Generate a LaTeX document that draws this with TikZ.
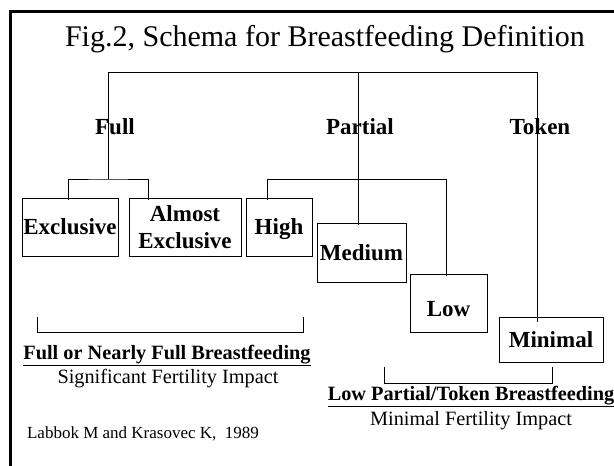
\documentclass[tikz,border=0pt]{standalone}
\usepackage{fontspec}
\setmainfont{Liberation Serif}
\usetikzlibrary{positioning}

\tikzset{
  box/.style={draw, line width=1pt, inner sep=0pt, align=center,
    font=\fontsize{23}{27}\selectfont\bfseries},
  kind/.style={inner sep=0pt, anchor=base, font=\fontsize{23}{27}\selectfont\bfseries},
  head/.style={inner sep=0pt, anchor=base, font=\fontsize{30}{36}\selectfont},
  group/.style={inner sep=0pt, anchor=base, font=\fontsize{20.3}{24}\selectfont\bfseries},
  impact/.style={inner sep=0pt, anchor=base, font=\fontsize{20.3}{24}\selectfont},
  source/.style={inner sep=0pt, anchor=base, font=\fontsize{17}{20}\selectfont},
  link/.style={line width=1pt},
  frame/.style={line width=3pt}
}

\begin{document}
\begin{tikzpicture}[x=1pt, y=-1pt]
  \useasboundingbox (0,0) rectangle (614,466);
  \draw[frame] (10.5,466) -- (10.5,11) -- (614,11);
  % Define nodes
  \node[head] (title) at (325,46) {Fig.2, Schema for Breastfeeding Definition};
  \node[kind] (full) at (115,134) {Full}; %
  \node[kind] (partial) at (360,134) {Partial}; %
  \node[kind] (token) at (540,134) {Token}; %
  \node[box, minimum width=96pt, minimum height=58pt] (excl) at (70,227) {Exclusive};
  \node[box, minimum width=112pt, minimum height=58pt] (almost) at (185,227) {Almost\\Exclusive};
  \node[box, minimum width=66pt, minimum height=58pt, text depth=0pt] (high) at (279,227) {High};
  \node[box, minimum width=89pt, minimum height=59pt] (medium) at (361.5,252.5) {Medium};
  \node[box, minimum width=77pt, minimum height=58pt, text height=27pt] (low) at (448.5,303) {Low};
  \node[box, minimum width=104pt, minimum height=45pt] (minimal) at (551,339.5) {Minimal};
  % Junctions
  \coordinate (jroot) at (358.5,72);
  \coordinate (jfull) at (108,179);
  \coordinate (jtok) at (537,72);
  \coordinate (jlow) at (446,179);
  % Connectors
  \draw[link] (jfull) |- (jtok);
  \draw[link] (jroot) -- ([yshift=-2pt]jroot |- medium.north);
  \draw[link] (jtok) -- ([yshift=-5pt]jtok |- minimal.north);
  \draw[link] ([xshift=-2pt, yshift=-2pt]excl.north) |- (jfull) -| ([xshift=20pt, yshift=-2pt]almost.north west);
  \draw[link] ([xshift=22pt, yshift=-2pt]high.north west) |- (jlow) -- ([yshift=-2pt]jlow |- low.north);
  % Brackets
  \coordinate (lbrl) at (37,317);
  \coordinate (lbrr) at (303,317);
  \coordinate (rbrl) at (384,367);
  \coordinate (rbrr) at (552,367);
  \draw[link] (lbrl) -- ++(0,15) -| (lbrr);
  \draw[link] (rbrl) -- ++(0,16) -| (rbrr);
  % Group texts
  \node[group] (fullbf) at (167,359) {\underline{Full or Nearly Full Breastfeeding}};
  \node[impact] (signif) at (168,383) {Significant Fertility Impact};
  \node[group] (lowbf) at (471,400) {\underline{Low Partial/Token Breastfeeding}};
  \node[impact] (minimp) at (471,425) {Minimal Fertility Impact};
  \node[source] (ref) at (143,438) {Labbok M and Krasovec K,\ \ 1989};
\end{tikzpicture}
\end{document}
